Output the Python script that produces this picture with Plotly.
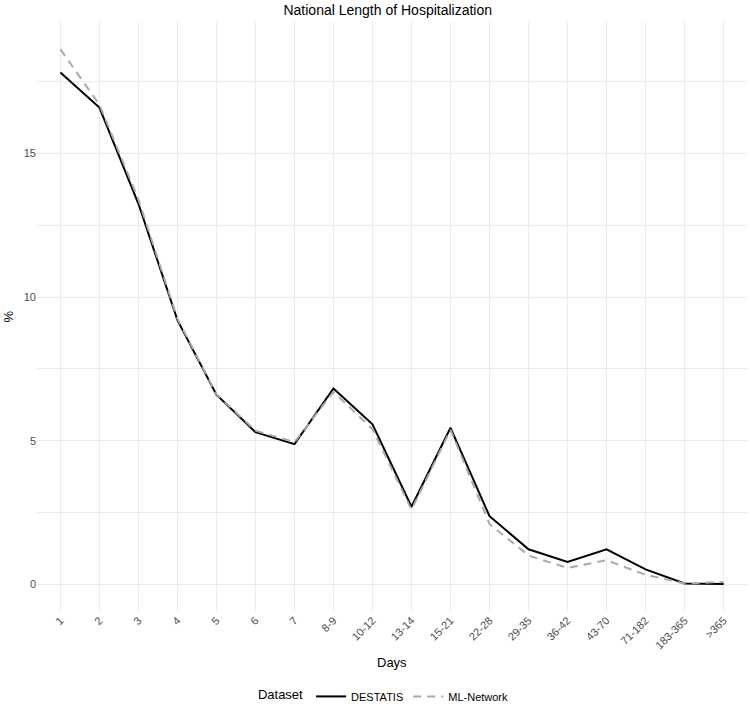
import plotly.graph_objects as go

categories = ["1", "2", "3", "4", "5", "6", "7", "8-9", "10-12", "13-14", "15-21",
              "22-28", "29-35", "36-42", "43-70", "71-182", "183-365", ">365"]
destatis = [17.82, 16.6, 13.25, 9.2, 6.6, 5.3, 4.88, 6.82, 5.57, 2.7, 5.45,
            2.37, 1.22, 0.78, 1.22, 0.52, 0.03, 0.01]
ml_network = [18.63, 16.7, 13.4, 9.25, 6.62, 5.35, 4.95, 6.7, 5.4, 2.6, 5.38,
              2.1, 1.0, 0.57, 0.84, 0.33, 0.03, 0.08]
y_ticks = [0, 5, 10, 15]

FONT = "Liberation Sans, Arial, sans-serif"

fig = go.Figure()
fig.add_trace(go.Scatter(x=categories, y=destatis, mode="lines", name="DESTATIS",
                         line=dict(color="#000000", width=2)))
fig.add_trace(go.Scatter(x=categories, y=ml_network, mode="lines", name="ML-Network",
                         line=dict(color="#A9A9A9", width=2, dash="8px,6px")))

fig.update_layout(
    width=750, height=708,
    margin=dict(l=37, r=3, t=22, b=97, autoexpand=False),
    paper_bgcolor="white", plot_bgcolor="white",
    font=dict(family=FONT, color="#4D4D4D", size=11),
    title=dict(text="National Length of Hospitalization", x=0.517, xanchor="center",
               y=1 - 10/708, yanchor="middle",
               font=dict(family=FONT, size=14, color="#000000")),
    showlegend=True,
    legend=dict(orientation="h", x=0.49, xanchor="center", y=-0.145, yanchor="middle",
                title=dict(text="Dataset", font=dict(size=13, color="#000000"), side="left"),
                font=dict(size=11, color="#000000"), itemwidth=30),
    xaxis=dict(type="category", categoryorder="array", categoryarray=categories,
               range=[-0.6, len(categories) - 1 + 0.6], automargin=False,
               showgrid=True, gridcolor="#EBEBEB", gridwidth=1,
               zeroline=False, showline=False, ticks="", ticklen=0,
               tickangle=-45, tickfont=dict(size=11, color="#4D4D4D")),
    yaxis=dict(range=[-0.93, 19.58], tickmode="array", tickvals=y_ticks, automargin=False,
               showgrid=True, gridcolor="#EBEBEB", gridwidth=1,
               minor=dict(dtick=2.5, tick0=0, showgrid=True, gridcolor="#EBEBEB", gridwidth=0.6),
               zeroline=False, showline=False, ticks="",
               tickfont=dict(size=11, color="#4D4D4D")),
    annotations=[
        dict(text="Days", xref="paper", yref="paper", x=0.5, y=-51/589,
             xanchor="center", yanchor="middle", showarrow=False,
             font=dict(family=FONT, size=13, color="#000000")),
        dict(text="%", xref="paper", yref="paper", x=-29/710, y=0.5,
             xanchor="center", yanchor="middle", showarrow=False, textangle=-90,
             font=dict(family=FONT, size=13, color="#000000")),
    ],
)

fig.write_html("out.html")
